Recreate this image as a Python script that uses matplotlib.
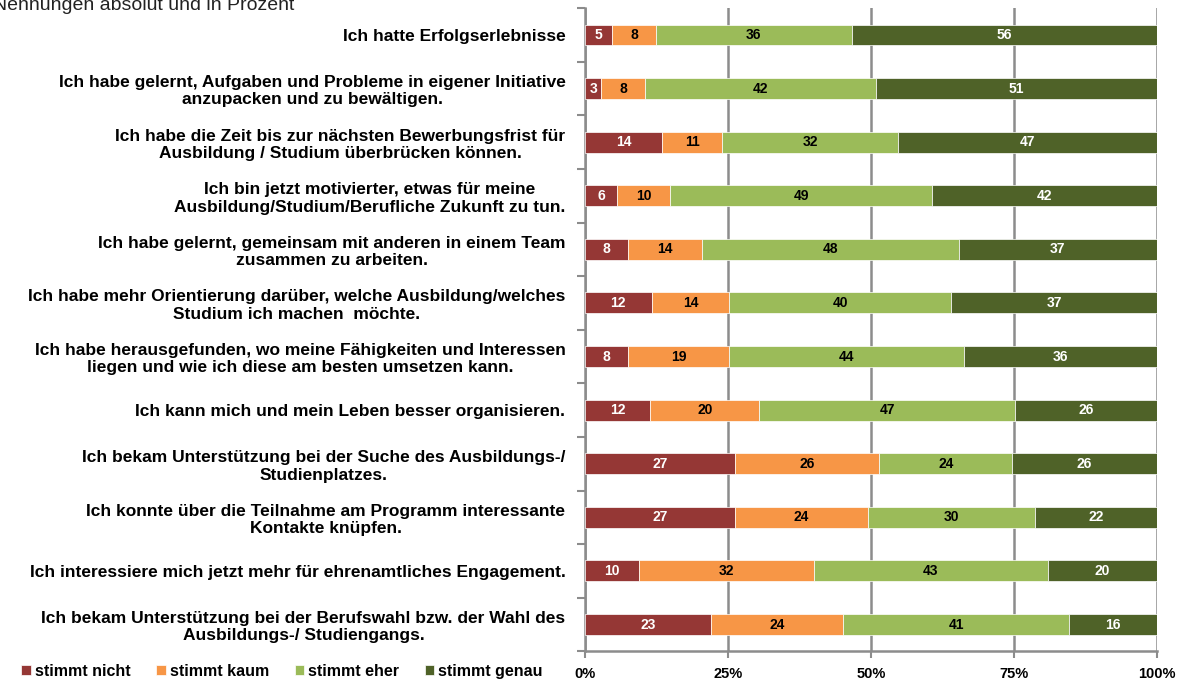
import numpy as np
import matplotlib
matplotlib.use("Agg")
import matplotlib.pyplot as plt

plt.rcParams['font.family'] = ['Liberation Sans', 'DejaVu Sans']

# Data
categories = [
    "Ich hatte Erfolgserlebnisse",
    "Ich habe gelernt, Aufgaben und Probleme in eigener Initiative\nanzupacken und zu bewältigen.",
    "Ich habe die Zeit bis zur nächsten Bewerbungsfrist für\nAusbildung / Studium überbrücken können.",
    "Ich bin jetzt motivierter, etwas für meine\nAusbildung/Studium/Berufliche Zukunft zu tun.",
    "Ich habe gelernt, gemeinsam mit anderen in einem Team\nzusammen zu arbeiten.",
    "Ich habe mehr Orientierung darüber, welche Ausbildung/welches\nStudium ich machen  möchte.",
    "Ich habe herausgefunden, wo meine Fähigkeiten und Interessen\nliegen und wie ich diese am besten umsetzen kann.",
    "Ich kann mich und mein Leben besser organisieren.",
    "Ich bekam Unterstützung bei der Suche des Ausbildungs-/\nStudienplatzes.",
    "Ich konnte über die Teilnahme am Programm interessante\nKontakte knüpfen.",
    "Ich interessiere mich jetzt mehr für ehrenamtliches Engagement.",
    "Ich bekam Unterstützung bei der Berufswahl bzw. der Wahl des\nAusbildungs-/ Studiengangs.",
]
stimmt_nicht = [5, 3, 14, 6, 8, 12, 8, 12, 27, 27, 10, 23]
stimmt_kaum  = [8, 8, 11, 10, 14, 14, 19, 20, 26, 24, 32, 24]
stimmt_eher  = [36, 42, 32, 49, 48, 40, 44, 47, 24, 30, 43, 41]
stimmt_genau = [56, 51, 47, 42, 37, 37, 36, 26, 26, 22, 20, 16]

series_names = ["stimmt nicht", "stimmt kaum", "stimmt eher", "stimmt genau"]
colors = ["#953735", "#F79646", "#9BBB59", "#4F6228"]
text_colors = ["white", "black", "black", "white"]
tick_labels = ["0%", "25%", "50%", "75%", "100%"]

counts = np.array([stimmt_nicht, stimmt_kaum, stimmt_eher, stimmt_genau], dtype=float)
totals = counts.sum(axis=0)
shares = counts / totals * 100

fig = plt.figure(figsize=(11.84, 6.82), dpi=100)
ax = fig.add_axes([0.494, 0.045, 0.483, 0.943])

y = np.arange(len(categories))
left = np.zeros(len(categories))
for i in range(4):
    bars = ax.barh(y, shares[i], left=left, height=0.39, color=colors[i],
                   edgecolor="white", linewidth=0.5, label=series_names[i], zorder=3)
    for j, b in enumerate(bars):
        ax.text(left[j] + shares[i][j] / 2, y[j], "%d" % counts[i][j],
                ha="center", va="center", fontsize=10, fontweight="bold",
                color=text_colors[i], zorder=4)
    left += shares[i]

ax.set_ylim(len(categories) - 0.5, -0.5)
ax.set_xlim(0, 100)
ax.set_xticks([0, 25, 50, 75, 100])
ax.set_xticklabels(tick_labels, fontsize=10.5, fontweight="bold")
ax.xaxis.grid(True, color="#8c8c8c", linewidth=1.8, zorder=0)

ax.set_yticks(y)
ax.set_yticklabels(categories, fontsize=12.5, fontweight="bold")
for t in ax.get_yticklabels():
    t.set_multialignment("center")
    t.set_linespacing(1.2)
ax.tick_params(axis="y", length=0, pad=14)
ax.set_yticks(np.arange(-0.5, len(categories) + 0.5, 1), minor=True)
ax.tick_params(axis="y", which="minor", length=6, width=1.5, color="#8c8c8c")
ax.tick_params(axis="x", length=5, width=1.5, color="#8c8c8c", pad=6)

for s in ["top", "right"]:
    ax.spines[s].set_visible(False)
for s in ["left", "bottom"]:
    ax.spines[s].set_color("#8c8c8c")
    ax.spines[s].set_linewidth(1.8)

fig.text(-0.006, 1.004, "Nennungen absolut und in Prozent", fontsize=14,
         ha="left", va="top", color="#222222")

leg = fig.legend(loc="lower left", bbox_to_anchor=(0.006, -0.016), ncol=4,
                 frameon=False, handlelength=0.6, handleheight=0.6,
                 handletextpad=0.25, columnspacing=1.6,
                 prop={"weight": "bold", "size": 11.5})

fig.savefig("out.png", dpi=100)
